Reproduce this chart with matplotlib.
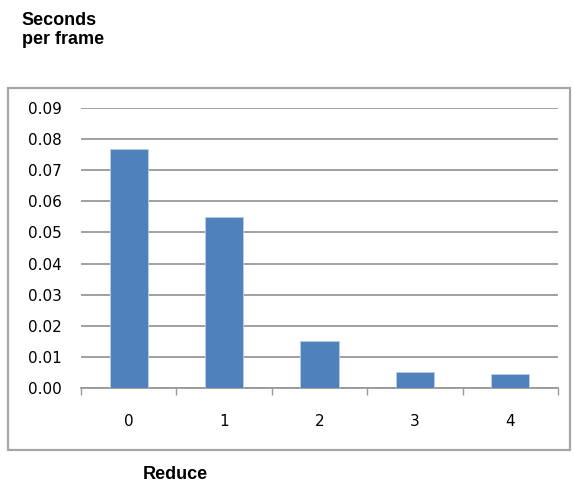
import numpy as np
import matplotlib
matplotlib.use("Agg")
import matplotlib.pyplot as plt
from matplotlib.patches import Rectangle

# data
reduce_levels = ["0", "1", "2", "3", "4"]
seconds_per_frame = [0.0768, 0.055, 0.0152, 0.0051, 0.0044]
y_ticks = [0.00, 0.01, 0.02, 0.03, 0.04, 0.05, 0.06, 0.07, 0.08, 0.09]

fig = plt.figure(figsize=(5.74, 4.82), dpi=100)
ax = fig.add_axes([0.1411, 0.195, 0.831, 0.581])

# outer chart box
fig.patches.append(Rectangle((0.0139, 0.0664), 0.979, 0.751, transform=fig.transFigure,
                             fill=False, edgecolor="#a6a6a6", linewidth=1.6))

x = np.arange(len(reduce_levels))
ax.bar(x, seconds_per_frame, width=0.4, color="#4f81bd", edgecolor="#b9cde5",
       linewidth=0.6, zorder=3)

ax.set_xlim(-0.5, len(reduce_levels) - 0.5)
ax.set_ylim(0, 0.09)
ax.set_yticks(y_ticks)
ax.set_yticklabels(["%.2f" % v for v in y_ticks])
ax.yaxis.grid(True, color="#999999", linewidth=1.3, zorder=0)
ax.set_axisbelow(True)

# category ticks sit between the bars, labels centred under them
ax.set_xticks(np.arange(len(reduce_levels) + 1) - 0.5)
ax.set_xticklabels([])
ax.set_xticks(x, minor=True)
ax.set_xticklabels(reduce_levels, minor=True)
ax.tick_params(axis="x", which="major", length=5, width=1, color="#999999", direction="out")
ax.tick_params(axis="x", which="minor", length=0, pad=19, labelsize=11)
ax.tick_params(axis="y", length=0, pad=13.5, labelsize=11)

for side in ["left", "right", "top"]:
    ax.spines[side].set_visible(False)
ax.spines["bottom"].set_color("#999999")
ax.spines["bottom"].set_linewidth(1.3)

fig.text(0.038, 0.975, "Seconds\nper frame", fontsize=13, fontweight="bold",
         family="Liberation Sans", va="top", ha="left", linespacing=1.15)
fig.text(0.249, 0.006, "Reduce", fontsize=13, fontweight="bold",
         family="Liberation Sans", va="baseline", ha="left")

fig.savefig("out.png", dpi=100)
